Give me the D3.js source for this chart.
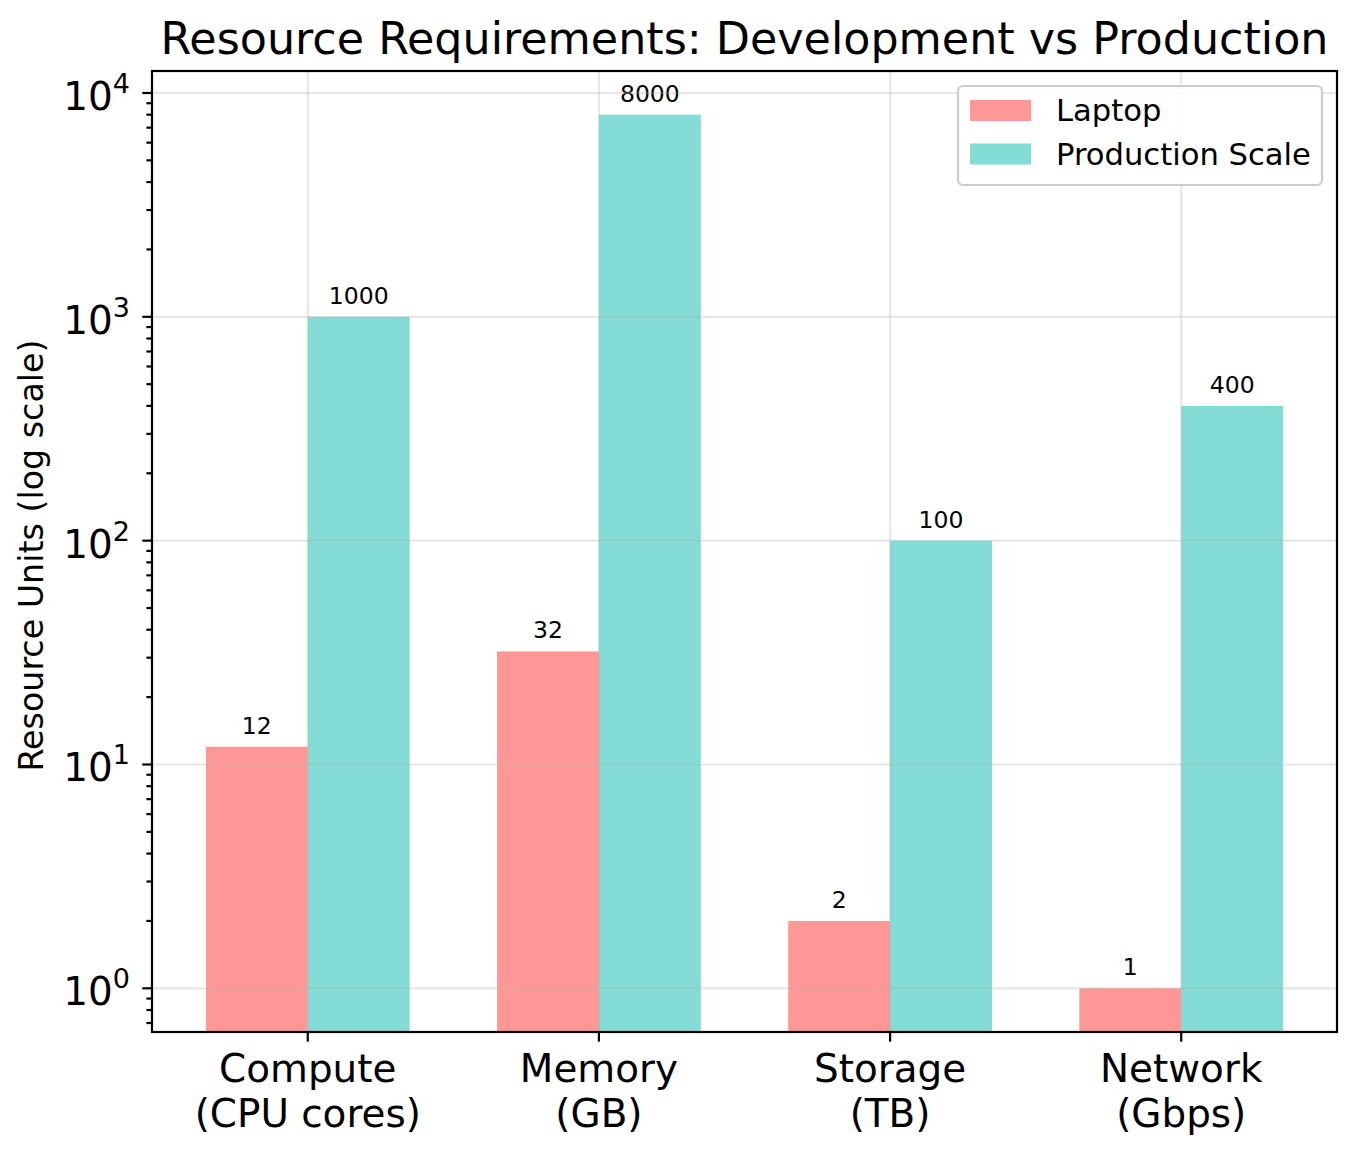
<!DOCTYPE html>
<html>
<head>
<meta charset="utf-8">
<script src="https://cdn.jsdelivr.net/npm/d3@7"></script>
<style>
  body { margin: 0; background: #fff; }
  text { font-family: "DejaVu Sans", sans-serif; fill: #000; }
</style>
</head>
<body>
<div id="container"></div>
<script>
const categories = ["Compute\n(CPU cores)", "Memory\n(GB)", "Storage\n(TB)", "Network\n(Gbps)"];
const laptop = [12, 32, 2, 1];
const production = [1000, 8000, 100, 400];
const seriesNames = ["Laptop", "Production Scale"];
const yTicks = [0, 1, 2, 3, 4]; // exponents

const w = 1357;
const h = 1154;
const padL = 152, padR = 1337, padT = 71, padB = 1032;
const barW = 0.35;
const colors = ["#FF6B6B", "#4ECDC4"];

const svg = d3.select("#container")
  .append("svg")
  .attr("width", w)
  .attr("height", h);

// x in "category units", with matplotlib-like 5% margins
const xmin = -barW, xmax = categories.length - 1 + barW;
const xpad = (xmax - xmin) * 0.05;
const scalex = d3.scaleLinear()
  .domain([xmin - xpad, xmax + xpad])
  .range([padL, padR]);

// log y with 5% margins in log space
const allVals = laptop.concat(production);
const lmin = Math.log10(d3.min(allVals)), lmax = Math.log10(d3.max(allVals));
const lpad = (lmax - lmin) * 0.05;
const scaley = d3.scaleLog()
  .domain([Math.pow(10, lmin - lpad), Math.pow(10, lmax + lpad)])
  .range([padB, padT]);

const plot = svg.append("g");
plot.append("clipPath").attr("id", "clip")
  .append("rect").attr("x", padL).attr("y", padT)
  .attr("width", padR - padL).attr("height", padB - padT);

// bars
const series = [laptop, production];
series.forEach((vals, s) => {
  plot.append("g").attr("clip-path", "url(#clip)")
    .selectAll("rect")
    .data(vals)
    .enter()
    .append("rect")
    .attr("x", (d, i) => scalex(s === 0 ? i - barW : i))
    .attr("width", (d, i) => scalex(barW) - scalex(0))
    .attr("y", d => scaley(d))
    .attr("height", d => padB - scaley(d) + 2)
    .attr("fill", colors[s])
    .attr("fill-opacity", 0.7);

  plot.append("g")
    .selectAll("text")
    .data(vals)
    .enter()
    .append("text")
    .attr("x", (d, i) => scalex(s === 0 ? i - barW / 2 : i + barW / 2))
    .attr("y", d => scaley(d) - 13)
    .attr("text-anchor", "middle")
    .style("font-size", "23.5px")
    .text(d => d);
});

// grid (matplotlib draws it over the bars)
const grid = svg.append("g")
  .attr("stroke", "#b0b0b0")
  .attr("stroke-opacity", 0.3)
  .attr("stroke-width", 2.2);
grid.selectAll(".gy")
  .data(yTicks)
  .enter()
  .append("line")
  .attr("x1", padL).attr("x2", padR)
  .attr("y1", d => scaley(Math.pow(10, d)))
  .attr("y2", d => scaley(Math.pow(10, d)));
grid.selectAll(".gx")
  .data(categories)
  .enter()
  .append("line")
  .attr("y1", padT).attr("y2", padB)
  .attr("x1", (d, i) => scalex(i))
  .attr("x2", (d, i) => scalex(i));

// y axis ticks
const yaxis = svg.append("g");
const minor = [];
const dom = scaley.domain();
for (let e = Math.floor(Math.log10(dom[0])); e <= Math.ceil(Math.log10(dom[1])); e++) {
  for (let m = 2; m < 10; m++) {
    const v = m * Math.pow(10, e);
    if (v >= dom[0] && v <= dom[1]) minor.push(v);
  }
}
yaxis.selectAll(".minor")
  .data(minor)
  .enter()
  .append("line")
  .attr("x1", padL - 5.6).attr("x2", padL)
  .attr("y1", d => scaley(d)).attr("y2", d => scaley(d))
  .attr("stroke", "#000").attr("stroke-width", 2.2);
yaxis.selectAll(".major")
  .data(yTicks)
  .enter()
  .append("line")
  .attr("x1", padL - 9.7).attr("x2", padL)
  .attr("y1", d => scaley(Math.pow(10, d)))
  .attr("y2", d => scaley(Math.pow(10, d)))
  .attr("stroke", "#000").attr("stroke-width", 2.2);
const ylab = yaxis.selectAll(".lab")
  .data(yTicks)
  .enter()
  .append("text")
  .attr("x", 130)
  .attr("y", d => scaley(Math.pow(10, d)) + 17)
  .attr("text-anchor", "end")
  .style("font-size", "38.9px");
ylab.append("tspan").text("10");
ylab.append("tspan")
  .attr("dy", -17)
  .style("font-size", "27px")
  .text(d => d);

// x axis ticks + labels
const xaxis = svg.append("g");
xaxis.selectAll("line")
  .data(categories)
  .enter()
  .append("line")
  .attr("x1", (d, i) => scalex(i)).attr("x2", (d, i) => scalex(i))
  .attr("y1", padB).attr("y2", padB + 9.7)
  .attr("stroke", "#000").attr("stroke-width", 2.2);
const xl = xaxis.selectAll("text")
  .data(categories)
  .enter()
  .append("text")
  .attr("text-anchor", "middle")
  .style("font-size", "38.9px");
xl.selectAll("tspan")
  .data((d, i) => d.split("\n").map(t => ({ t: t, i: i })))
  .enter()
  .append("tspan")
  .attr("x", d => scalex(d.i))
  .attr("y", (d, j) => 1082 + j * 44.5)
  .text(d => d.t);

// frame
svg.append("rect")
  .attr("x", padL).attr("y", padT)
  .attr("width", padR - padL).attr("height", padB - padT)
  .attr("fill", "none")
  .attr("stroke", "#000")
  .attr("stroke-width", 2.2);

// axis label + title
svg.append("text")
  .attr("transform", "translate(43," + ((padT + padB) / 2 + 4) + ") rotate(-90)")
  .attr("text-anchor", "middle")
  .style("font-size", "33.3px")
  .text("Resource Units (log scale)");

svg.append("text")
  .attr("x", (padL + padR) / 2)
  .attr("y", 54)
  .attr("text-anchor", "middle")
  .style("font-size", "44.4px")
  .text("Resource Requirements: Development vs Production");

// legend
const lg = svg.append("g");
lg.append("rect")
  .attr("x", 958).attr("y", 86)
  .attr("width", 364).attr("height", 99)
  .attr("rx", 5)
  .attr("fill", "#fff").attr("fill-opacity", 0.8)
  .attr("stroke", "#ccc").attr("stroke-width", 2.2);
const items = lg.selectAll(".item")
  .data(seriesNames)
  .enter()
  .append("g")
  .attr("transform", (d, i) => "translate(0," + i * 43.5 + ")");
items.append("rect")
  .attr("x", 970).attr("y", 100)
  .attr("width", 61).attr("height", 21)
  .attr("fill", (d, i) => colors[i])
  .attr("fill-opacity", 0.7);
items.append("text")
  .attr("x", 1056).attr("y", 121)
  .style("font-size", "30.6px")
  .text(d => d);
</script>
</body>
</html>
